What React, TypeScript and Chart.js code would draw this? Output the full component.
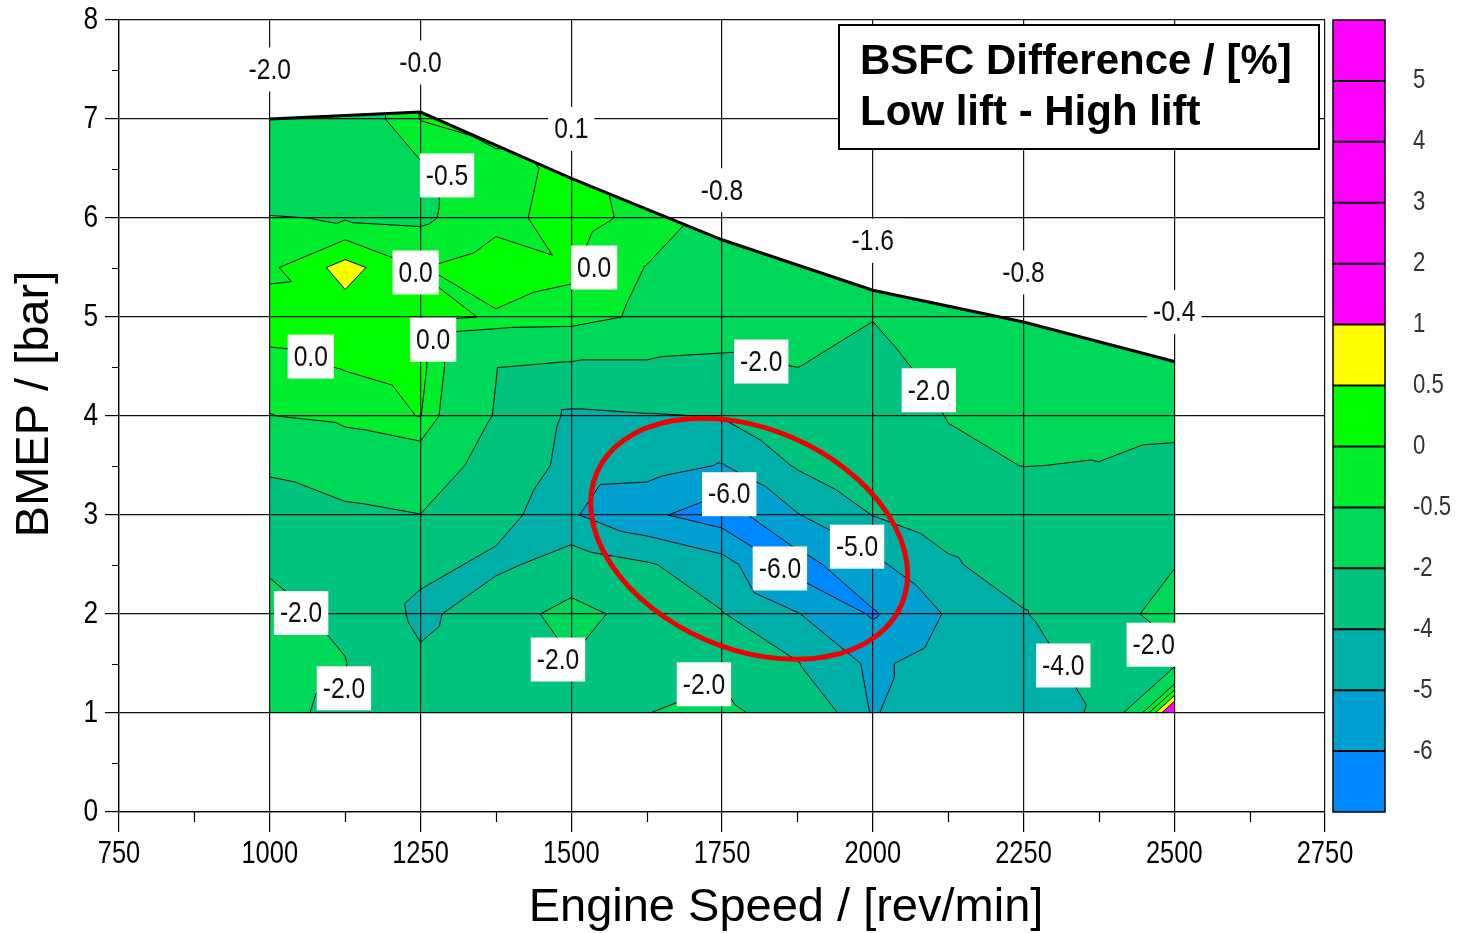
import React, { useEffect, useRef } from "react";
import { Chart, registerables } from "chart.js";

Chart.register(...registerables);

// ---------------- data ----------------
const GRID_SPEEDS = [1000, 1125, 1250, 1375, 1500, 1625, 1750, 1875, 2000, 2125, 2250, 2375, 2500];
const GRID_BMEPS = [1, 1.5, 2, 2.5, 3, 3.5, 4, 4.5, 5, 5.5, 6, 6.5, 7, 7.5];

// BSFC difference [%] (low lift - high lift) at each BMEP row, one value per GRID_SPEEDS entry
const bsfcAt1_0 = [-1.5, -2.44, -3.0, -2.8, -2.4, -2.02, -1.6, -2.8, -5.05, -4.5, -4.4, -3.9, 2.0];
const bsfcAt1_5 = [-1.3, -1.95, -3.7, -2.8, -2.1, -2.5, -2.3, -3.95, -5.2, -4.5, -4.5, -3.5, -2.3];
const bsfcAt2_0 = [-1.6, -2.3, -4.4, -3.0, -1.3, -2.8, -3.95, -4.95, -6.1, -4.9, -4.1, -2.6, -1.5];
const bsfcAt2_5 = [-2.15, -2.5, -3.6, -4.3, -3.4, -3.9, -4.6, -6.4, -5.2, -4.2, -3.2, -2.6, -2.05];
const bsfcAt3_0 = [-2.5, -2.3, -2.02, -3.5, -4.9, -5.8, -6.5, -5.05, -3.98, -3.3, -2.8, -2.5, -2.4];
const bsfcAt3_5 = [-1.85, -1.2, -1.0, -2.7, -4.5, -4.6, -5.05, -3.9, -3.0, -2.3, -1.98, -2.05, -2.43];
const bsfcAt4_0 = [-0.52, -0.3, 0.02, -2.1, -4.3, -4.1, -3.95, -3.0, -3.0, -1.95, -1.6, -1.4, -1.5];
const bsfcAt4_5 = [-0.13, 0.03, 0.18, -1.95, -2.2, -2.2, -2.3, -1.98, -2.5, -1.5, -1.2, -1.1, -1.0];
const bsfcAt5_0 = [0.2, 0.25, 0.15, -0.05, -0.1, -0.7, -1.2, -1.3, -1.95, -1.0, -0.9, -0.8, -0.7];
const bsfcAt5_5 = [-0.1, 0.7, -0.02, 0.25, 0.05, -0.52, -1.0, -1.2, -1.4, -1.2, -1.0, -0.8, -0.7];
const bsfcAt6_0 = [-0.45, -0.55, -0.6, -0.15, 0.2, -0.15, -0.75, -1.2, -1.6, -1.2, -0.9, -0.7, -0.6];
const bsfcAt6_5 = [-1.4, -1.1, -0.6, -0.2, 0.15, -0.2, -0.8, -1.2, -1.6, -1.2, -0.8, -0.6, -0.6];
const bsfcAt7_0 = [-1.9, -1.1, 0.02, 0.3, 0.3, -0.2, -0.8, -1.2, -1.6, -1.2, -0.8, -0.6, -0.6];
const bsfcAt7_5 = [-1.9, -1.1, 0.02, 0.3, 0.3, -0.2, -0.8, -1.2, -1.6, -1.2, -0.8, -0.6, -0.6];
const BSFC_ROWS = [
  bsfcAt1_0, bsfcAt1_5, bsfcAt2_0, bsfcAt2_5, bsfcAt3_0, bsfcAt3_5, bsfcAt4_0,
  bsfcAt4_5, bsfcAt5_0, bsfcAt5_5, bsfcAt6_0, bsfcAt6_5, bsfcAt7_0, bsfcAt7_5,
];

const FULL_LOAD_SPEED = [1000, 1250, 1500, 1750, 2000, 2250, 2500];
const FULL_LOAD_BMEP = [7.0, 7.07, 6.4, 5.78, 5.27, 4.95, 4.55];
const FULL_LOAD_LABELS = ["-2.0", "-0.0", "0.1", "-0.8", "-1.6", "-0.8", "-0.4"];
const MIN_BMEP = 1;

const CONTOUR_LEVELS = [-6, -5, -4, -2, -0.5, 0, 0.5, 1, 2, 3, 4, 5];
const LEVEL_LABELS = ["-6", "-5", "-4", "-2", "-0.5", "0", "0.5", "1", "2", "3", "4", "5"];
const BAND_COLORS = [
  "#0088ff", "#00a0d0", "#00b0a8", "#00c47e", "#00d85a", "#00ee2e", "#00ff00",
  "#ffff00", "#ff00ff", "#ff00ff", "#ff00ff", "#ff00ff", "#ff00ff",
];

const CONTOUR_LABEL_TEXT = ["-0.5", "0.0", "0.0", "0.0", "0.0", "-2.0", "-2.0", "-6.0", "-5.0", "-6.0", "-2.0", "-2.0", "-2.0", "-2.0", "-4.0", "-2.0"];
const CONTOUR_LABEL_SPEED = [1294, 1242, 1538, 1068, 1271, 1815, 2093, 1762, 1974, 1846, 1052, 1123, 1478, 1720, 2316, 2466];
const CONTOUR_LABEL_BMEP = [6.43, 5.45, 5.5, 4.6, 4.77, 4.55, 4.26, 3.21, 2.68, 2.46, 2.01, 1.25, 1.54, 1.29, 1.48, 1.69];

const HIGHLIGHT_SPEED = 1795;
const HIGHLIGHT_BMEP = 2.76;

const LEGEND_LINES = ["BSFC Difference / [%]", "Low lift - High lift"];
const X_TITLE = "Engine Speed / [rev/min]";
const Y_TITLE = "BMEP / [bar]";

// ---------------- drawing helpers ----------------
const SANS = "'Liberation Sans', Arial, Helvetica, sans-serif";
const NARROW_SCALE = 0.82;

type Pt = { x: number; y: number; v: number };

function clipPoly(poly: Pt[], level: number, above: boolean): Pt[] {
  const out: Pt[] = [];
  const n = poly.length;
  for (let i = 0; i < n; i++) {
    const a = poly[i];
    const b = poly[(i + 1) % n];
    const ina = above ? a.v >= level : a.v <= level;
    const inb = above ? b.v >= level : b.v <= level;
    if (ina) out.push(a);
    if (ina !== inb) {
      const t = (level - a.v) / (b.v - a.v);
      out.push({ x: a.x + t * (b.x - a.x), y: a.y + t * (b.y - a.y), v: level });
    }
  }
  return out;
}

// condensed text (Arial-Narrow-like) by horizontal scaling
function narrowText(
  ctx: CanvasRenderingContext2D, text: string, x: number, y: number,
  size: number, align: CanvasTextAlign, color: string,
) {
  ctx.save();
  ctx.font = `${size}px ${SANS}`;
  ctx.fillStyle = color;
  ctx.textAlign = align;
  ctx.textBaseline = "middle";
  ctx.translate(x, y);
  ctx.scale(NARROW_SCALE, 1);
  ctx.fillText(text, 0, 0);
  ctx.restore();
}

function narrowWidth(ctx: CanvasRenderingContext2D, text: string, size: number) {
  ctx.save();
  ctx.font = `${size}px ${SANS}`;
  const w = ctx.measureText(text).width * NARROW_SCALE;
  ctx.restore();
  return w;
}

function labelBox(ctx: CanvasRenderingContext2D, text: string, cx: number, cy: number) {
  const w = narrowWidth(ctx, text, 30) + 12;
  const h = 44;
  ctx.fillStyle = "#ffffff";
  ctx.fillRect(cx - w / 2, cy - h / 2, w, h);
  narrowText(ctx, text, cx, cy + 1, 30, "center", "#111");
}

const contourPlugin = {
  id: "bsfcContour",
  beforeDraw(chart: any) {
    const { ctx } = chart;
    const xs = chart.scales.x;
    const ys = chart.scales.y;
    const px = GRID_SPEEDS.map((s) => xs.getPixelForValue(s));
    const py = GRID_BMEPS.map((b) => ys.getPixelForValue(b));
    const tris: Pt[][] = [];
    for (let j = 0; j < GRID_BMEPS.length - 1; j++) {
      for (let i = 0; i < GRID_SPEEDS.length - 1; i++) {
        const p00 = { x: px[i], y: py[j], v: BSFC_ROWS[j][i] };
        const p10 = { x: px[i + 1], y: py[j], v: BSFC_ROWS[j][i + 1] };
        const p01 = { x: px[i], y: py[j + 1], v: BSFC_ROWS[j + 1][i] };
        const p11 = { x: px[i + 1], y: py[j + 1], v: BSFC_ROWS[j + 1][i + 1] };
        if (p01.v + p10.v <= p00.v + p11.v) {
          tris.push([p01, p11, p10], [p01, p10, p00]);
        } else {
          tris.push([p00, p10, p11], [p00, p11, p01]);
        }
      }
    }
    ctx.save();
    ctx.beginPath();
    const last = FULL_LOAD_SPEED.length - 1;
    ctx.moveTo(xs.getPixelForValue(FULL_LOAD_SPEED[0]), ys.getPixelForValue(MIN_BMEP));
    FULL_LOAD_SPEED.forEach((s, k) => ctx.lineTo(xs.getPixelForValue(s), ys.getPixelForValue(FULL_LOAD_BMEP[k])));
    ctx.lineTo(xs.getPixelForValue(FULL_LOAD_SPEED[last]), ys.getPixelForValue(MIN_BMEP));
    ctx.closePath();
    ctx.clip();

    for (let k = 0; k < BAND_COLORS.length; k++) {
      const lo = k === 0 ? -Infinity : CONTOUR_LEVELS[k - 1];
      const hi = k === BAND_COLORS.length - 1 ? Infinity : CONTOUR_LEVELS[k];
      ctx.beginPath();
      let any = false;
      for (const t of tris) {
        let poly = t;
        if (lo !== -Infinity) poly = clipPoly(poly, lo, true);
        if (poly.length >= 3 && hi !== Infinity) poly = clipPoly(poly, hi, false);
        if (poly.length < 3) continue;
        any = true;
        ctx.moveTo(poly[0].x, poly[0].y);
        for (let m = 1; m < poly.length; m++) ctx.lineTo(poly[m].x, poly[m].y);
        ctx.closePath();
      }
      if (any) {
        ctx.fillStyle = BAND_COLORS[k];
        ctx.fill();
      }
    }

    ctx.beginPath();
    for (const t of tris) {
      for (const L of CONTOUR_LEVELS) {
        const pts: number[][] = [];
        for (let e = 0; e < 3; e++) {
          const a = t[e];
          const b = t[(e + 1) % 3];
          const da = a.v - L;
          const db = b.v - L;
          if (da < 0 !== db < 0) {
            const tt = da / (da - db);
            pts.push([a.x + tt * (b.x - a.x), a.y + tt * (b.y - a.y)]);
          }
        }
        if (pts.length === 2) {
          ctx.moveTo(pts[0][0], pts[0][1]);
          ctx.lineTo(pts[1][0], pts[1][1]);
        }
      }
    }
    ctx.strokeStyle = "#000";
    ctx.lineWidth = 1;
    ctx.stroke();
    ctx.restore();
  },
  afterDraw(chart: any) {
    const { ctx, chartArea } = chart;
    const xs = chart.scales.x;
    const ys = chart.scales.y;
    ctx.save();

    // tick labels (condensed font, positioned from the library's ticks)
    xs.ticks.forEach((t: any) => {
      narrowText(ctx, String(t.value), xs.getPixelForValue(t.value), chartArea.bottom + 42, 31, "center", "#000");
    });
    ys.ticks.forEach((t: any) => {
      narrowText(ctx, String(t.value), chartArea.left - 21, ys.getPixelForValue(t.value), 32, "right", "#000");
    });

    // minor ticks
    ctx.strokeStyle = "#000";
    ctx.lineWidth = 1.2;
    ctx.beginPath();
    for (let s = 875; s < 2750; s += 250) {
      const x = Math.round(xs.getPixelForValue(s)) + 0.5;
      ctx.moveTo(x, chartArea.bottom);
      ctx.lineTo(x, chartArea.bottom + 10);
    }
    for (let b = 0.5; b < 8; b += 1) {
      const y = Math.round(ys.getPixelForValue(b)) + 0.5;
      ctx.moveTo(chartArea.left, y);
      ctx.lineTo(chartArea.left - 7, y);
    }
    ctx.stroke();

    // full load values
    FULL_LOAD_SPEED.forEach((s, k) => {
      labelBox(ctx, FULL_LOAD_LABELS[k], xs.getPixelForValue(s), ys.getPixelForValue(FULL_LOAD_BMEP[k] + 0.5));
    });
    // contour labels
    CONTOUR_LABEL_TEXT.forEach((t, k) => {
      labelBox(ctx, t, xs.getPixelForValue(CONTOUR_LABEL_SPEED[k]), ys.getPixelForValue(CONTOUR_LABEL_BMEP[k]));
    });

    // highlight ellipse
    ctx.beginPath();
    ctx.ellipse(xs.getPixelForValue(HIGHLIGHT_SPEED), ys.getPixelForValue(HIGHLIGHT_BMEP), 166, 110, (23.4 * Math.PI) / 180, 0, Math.PI * 2);
    ctx.strokeStyle = "#f00000";
    ctx.lineWidth = 5;
    ctx.stroke();

    // colour bar
    const cbL = chartArea.right + 8;
    const cbW = 52;
    const n = BAND_COLORS.length;
    const h = (chartArea.bottom - chartArea.top) / n;
    for (let k = 0; k < n; k++) {
      ctx.fillStyle = BAND_COLORS[k];
      ctx.fillRect(cbL, chartArea.bottom - (k + 1) * h, cbW, h);
    }
    ctx.strokeStyle = "#000";
    ctx.lineWidth = 2;
    ctx.beginPath();
    for (let k = 1; k < n; k++) {
      const y = chartArea.bottom - k * h;
      ctx.moveTo(cbL, y);
      ctx.lineTo(cbL + cbW, y);
    }
    ctx.stroke();
    ctx.lineWidth = 1.5;
    ctx.strokeRect(cbL, chartArea.top, cbW, chartArea.bottom - chartArea.top);
    LEVEL_LABELS.forEach((t, k) => {
      narrowText(ctx, t, cbL + 80, chartArea.bottom - (k + 1) * h, 27, "left", "#333");
    });

    // legend box
    const bx = chartArea.right - 486;
    const by = chartArea.top + 5;
    ctx.fillStyle = "#fff";
    ctx.fillRect(bx, by, 480, 124);
    ctx.strokeStyle = "#000";
    ctx.lineWidth = 2;
    ctx.strokeRect(bx, by, 480, 124);
    ctx.fillStyle = "#000";
    ctx.font = `bold 42px ${SANS}`;
    ctx.textAlign = "left";
    ctx.textBaseline = "middle";
    ctx.fillText(LEGEND_LINES[0], bx + 21, by + 37);
    ctx.fillText(LEGEND_LINES[1], bx + 21, by + 88);

    // axis titles
    ctx.font = `47px ${SANS}`;
    ctx.textAlign = "center";
    ctx.textBaseline = "alphabetic";
    ctx.fillText(X_TITLE, 786, 921);
    ctx.save();
    ctx.translate(48, 404);
    ctx.rotate(-Math.PI / 2);
    ctx.font = `47px ${SANS}`;
    ctx.fillText(Y_TITLE, 0, 0);
    ctx.restore();

    ctx.restore();
  },
};

export default function App() {
  const ref = useRef<HTMLCanvasElement | null>(null);
  useEffect(() => {
    if (!ref.current) return;
    const chart = new Chart(ref.current, {
      type: "scatter",
      data: {
        datasets: [
          {
            type: "line",
            data: FULL_LOAD_SPEED.map((s, i) => ({ x: s, y: FULL_LOAD_BMEP[i] })),
            borderColor: "#000",
            borderWidth: 3,
            pointRadius: 0,
            showLine: true,
            tension: 0,
          } as any,
        ],
      },
      options: {
        responsive: false,
        animation: false,
        devicePixelRatio: 1,
        events: [],
        layout: { padding: { top: 20, right: 141, left: 0, bottom: 0 } },
        plugins: { legend: { display: false }, tooltip: { enabled: false }, title: { display: false } },
        scales: {
          x: {
            type: "linear",
            min: 750,
            max: 2750,
            afterFit: (s: any) => {
              s.height = 121;
              s.paddingLeft = 0;
              s.paddingRight = 0;
            },
            ticks: { display: false, stepSize: 250, autoSkip: false, maxRotation: 0 },
            grid: { color: "#111", lineWidth: 1.2, tickLength: 20, tickColor: "#000" },
            border: { color: "#000", width: 1.3 },
          },
          y: {
            type: "linear",
            min: 0,
            max: 8,
            afterFit: (s: any) => {
              s.width = 119;
              s.paddingTop = 0;
              s.paddingBottom = 0;
            },
            ticks: { display: false, stepSize: 1, autoSkip: false },
            grid: { color: "#111", lineWidth: 1.2, tickLength: 14, tickColor: "#000" },
            border: { color: "#000", width: 1.3 },
          },
        },
      } as any,
      plugins: [contourPlugin],
    });
    return () => chart.destroy();
  }, []);
  return (
    <div style={{ position: "absolute", left: 0, top: 0, width: 1466, height: 933, background: "#fff" }}>
      <canvas ref={ref} width={1466} height={933} style={{ display: "block", width: 1466, height: 933 }} />
    </div>
  );
}
